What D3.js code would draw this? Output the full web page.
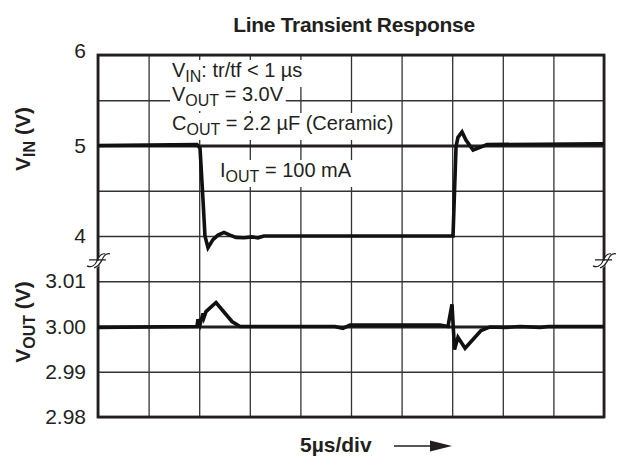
<!DOCTYPE html>
<html>
<head>
<meta charset="utf-8">
<script src="https://cdn.jsdelivr.net/npm/d3@7"></script>
<style>
body { margin: 0; background: #fff; }
text { font-family: "Liberation Sans", Arial, Helvetica, sans-serif; fill: #231f20; }
</style>
</head>
<body>
<svg id="chart" width="621" height="459"></svg>
<script>
// time axis, 5 us per division
var timeTicks = [0, 5, 10, 15, 20, 25, 30, 35, 40, 45, 50];
// upper panel (VIN) and lower panel (VOUT) grid lines + labels
var vinGrid = [4, 4.5, 5, 5.5, 6];
var vinLabels = [4, 5, 6];
var voutTicks = [2.98, 2.99, 3.00, 3.01];

// traces (time in us, volts)
var vinTime   = [0, 9.78, 10.08, 10.38, 10.57, 10.87, 11.36, 11.86, 12.45, 13.04, 13.64, 14.43, 15.2, 15.8, 16.4,
                 35.08, 35.38, 35.57, 35.97, 36.36, 37.06, 37.75, 38.44, 50];
var vinValues = [5.0, 5.01, 4.97, 4.39, 4.0, 3.87, 3.96, 4.01, 4.04, 4.01, 3.985, 3.98, 3.99, 3.98, 4.0,
                 4.0, 4.99, 5.09, 5.15, 5.06, 4.95, 4.98, 5.01, 5.02];

var voutTime   = [0, 9.78, 9.88, 10.08, 10.38, 10.47, 10.67, 11.66, 13.24, 14.03, 23.4, 24.2, 24.9, 33.8,
                  34.58, 34.98, 35.23, 35.57, 36.27, 37.85, 38.74, 40.2, 41.7, 43.7, 44.5, 50];
var voutValues = [2.9998, 3.0, 3.0016, 3.0004, 3.0029, 3.002, 3.0033, 3.0053, 3.0011, 3.0, 3.0, 2.9996, 3.0003, 3.0003,
                  3.0, 3.0049, 2.9949, 2.9976, 2.9952, 2.9991, 2.9999, 2.9998, 3.0, 2.9998, 3.0, 3.0];

var ink = "#231f20";
var pLeft = 98, pRight = 604, pTop = 55, pBottom = 417;
var div = (pBottom - pTop) / 8;

var svg = d3.select("#chart");

var x = d3.scaleLinear().domain([0, 50]).range([pLeft, pRight]);
var yIn = d3.scaleLinear().domain([4, 6]).range([pTop + 4 * div, pTop]);
var yOut = d3.scaleLinear().domain([2.98, 3.01]).range([pBottom, pTop + 5 * div]);

// vertical grid
var gx = svg.append("g")
    .attr("transform", "translate(0," + pBottom + ")")
    .call(d3.axisBottom(x).tickValues(timeTicks).tickSize(-(pBottom - pTop)).tickFormat(""));
gx.select(".domain").remove();
gx.selectAll("line").attr("stroke", "#333").attr("stroke-width", 1.3);

// horizontal grid, both panels
var gIn = svg.append("g")
    .attr("transform", "translate(" + pLeft + ",0)")
    .call(d3.axisLeft(yIn).tickValues(vinGrid).tickSize(-(pRight - pLeft)).tickFormat(""));
var gOut = svg.append("g")
    .attr("transform", "translate(" + pLeft + ",0)")
    .call(d3.axisLeft(yOut).tickValues(voutTicks).tickSize(-(pRight - pLeft)).tickFormat(""));
[gIn, gOut].forEach(function(g) {
    g.select(".domain").remove();
    g.selectAll("line").attr("stroke", "#333").attr("stroke-width", 1.3);
});
// heavier reference lines at 5 V and 3.00 V
gIn.selectAll(".tick").filter(function(d) { return d === 5; })
    .select("line").attr("stroke", ink).attr("stroke-width", 3.2);
gOut.selectAll(".tick").filter(function(d) { return d === 3.00; })
    .select("line").attr("stroke", ink).attr("stroke-width", 3.2);

// tick labels
var lIn = svg.append("g")
    .attr("transform", "translate(" + pLeft + ",0)")
    .call(d3.axisLeft(yIn).tickValues(vinLabels).tickSize(0).tickPadding(12).tickFormat(d3.format("d")));
var lOut = svg.append("g")
    .attr("transform", "translate(" + pLeft + ",0)")
    .call(d3.axisLeft(yOut).tickValues(voutTicks).tickSize(0).tickPadding(12).tickFormat(d3.format(".2f")));
[lIn, lOut].forEach(function(g) {
    g.select(".domain").remove();
    g.selectAll("text")
        .attr("font-family", "Liberation Sans, Arial, sans-serif")
        .style("font-size", "21px")
        .attr("fill", ink);
});
// the top label sits a little above its line
lIn.selectAll(".tick").filter(function(d) { return d === 6; })
    .select("text").attr("y", -4);

// frame
svg.append("rect")
    .attr("x", pLeft).attr("y", pTop)
    .attr("width", pRight - pLeft).attr("height", pBottom - pTop)
    .attr("fill", "none").attr("stroke", ink).attr("stroke-width", 2.8);

// axis break marks
[pLeft, pRight].forEach(function(bx) {
    var by = pTop + 4.55 * div;
    var g = svg.append("g").attr("transform", "translate(" + bx + "," + by + ")");
    g.append("path")
        .attr("d", "M-6,7 C-2,7 -1,-2 1,-3 C3,-4 4,-7 8,-7 L11,-7 C8,-7 7,-4 5,-3 C3,-2 2,7 -2,7 Z")
        .attr("fill", "#fff").attr("stroke", "none");
    g.append("path")
        .attr("d", "M-11,5 C-7,7 -3,5 -1,0 C1,-5 3,-8 7,-7 M-9,-1 L1,-1")
        .attr("fill", "none").attr("stroke", ink).attr("stroke-width", 1.2);
    g.append("path")
        .attr("d", "M-4,7 C0,6 2,3 4,-1 C6,-6 8,-8 12,-7 M-1,-1 L8,-1")
        .attr("fill", "none").attr("stroke", ink).attr("stroke-width", 1.2);
});

// traces
var line = d3.line().x(function(d) { return x(d[0]); });
svg.append("path")
    .datum(d3.zip(vinTime, vinValues))
    .attr("d", line.y(function(d) { return yIn(d[1]); }))
    .attr("fill", "none").attr("stroke", "#111").attr("stroke-width", 3.6)
    .attr("stroke-linejoin", "miter");
svg.append("path")
    .datum(d3.zip(voutTime, voutValues))
    .attr("d", line.y(function(d) { return yOut(d[1]); }))
    .attr("fill", "none").attr("stroke", "#111").attr("stroke-width", 3.6)
    .attr("stroke-linejoin", "miter");

// annotation text with white boxes behind
var notes = [
    {main: "V", sub: "IN", rest: ": tr/tf < 1 µs", x: 172, y: 77},
    {main: "V", sub: "OUT", rest: " = 3.0V", x: 172, y: 101},
    {main: "C", sub: "OUT", rest: " = 2.2 µF (Ceramic)", x: 172, y: 130},
    {main: "I", sub: "OUT", rest: " = 100 mA", x: 220, y: 177}
];
notes.forEach(function(n) {
    var g = svg.append("g");
    var bg = g.append("rect").attr("fill", "#fff");
    var t = g.append("text")
        .attr("x", n.x).attr("y", n.y)
        .style("font-size", "20px");
    t.append("tspan").text(n.main);
    t.append("tspan").attr("dy", 5).style("font-size", "16px").text(n.sub);
    t.append("tspan").attr("dy", -5).text(n.rest);
    var b = t.node().getBBox();
    bg.attr("x", b.x - 2).attr("y", b.y + 1)
        .attr("width", b.width + 4).attr("height", b.height + 1);
});

// title, same weight as the axis titles
svg.append("text")
    .attr("x", 354).attr("y", 32)
    .attr("text-anchor", "middle")
    .style("font-size", "21px").style("font-weight", "bold")
    .attr("letter-spacing", -0.3)
    .text("Line Transient Response");

// rotated axis titles
function axisTitle(cy, main, sub) {
    var t = svg.append("text")
        .attr("transform", "translate(30," + cy + ") rotate(-90)")
        .attr("text-anchor", "middle")
        .style("font-size", "21px").style("font-weight", "bold");
    t.append("tspan").text(main);
    t.append("tspan").attr("dy", 5).style("font-size", "16px").text(sub);
    t.append("tspan").attr("dy", -5).text(" (V)");
}
axisTitle(139, "V", "IN");
axisTitle(322, "V", "OUT");

// x label with arrow
svg.append("text")
    .attr("x", 300).attr("y", 452)
    .style("font-size", "21px").style("font-weight", "bold")
    .text("5µs/div");
svg.append("line")
    .attr("x1", 394).attr("x2", 432).attr("y1", 446).attr("y2", 446)
    .attr("stroke", ink).attr("stroke-width", 1.5);
svg.append("path")
    .attr("d", "M430,440.5 L452,446 L430,451.5 Z")
    .attr("fill", ink);
</script>
</body>
</html>
